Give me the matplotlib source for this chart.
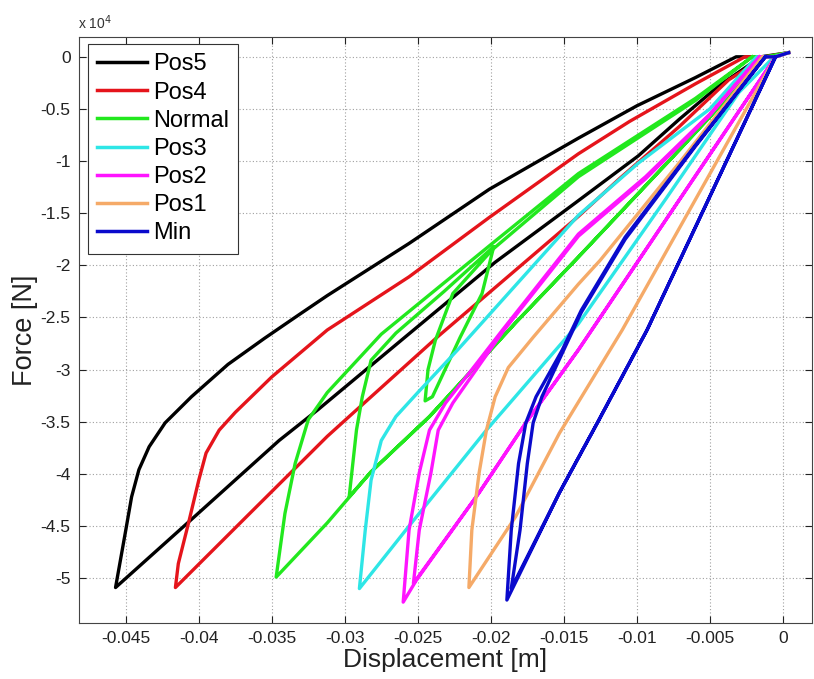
import numpy as np
import matplotlib.pyplot as plt
from matplotlib.ticker import FuncFormatter, MultipleLocator

plt.rcParams['font.family'] = ['Liberation Sans', 'DejaVu Sans']

# --- data: displacement [m], force [x 10^4 N] ---
labels = ['Pos5', 'Pos4', 'Normal', 'Pos3', 'Pos2', 'Pos1', 'Min']
colors = ['#000000', '#E5141B', '#22E81E', '#2EE6E6', '#FF14FF', '#F5AA68', '#0A0ACC']

pos5_disp = [0.0004, -0.0015, -0.0044, -0.0071, -0.0099, -0.0142, -0.0197, -0.0258, -0.0318, -0.0345, -0.0414, -0.0457,
             -0.0450, -0.0446, -0.0441, -0.0434, -0.0423, -0.0405, -0.0380, -0.0355, -0.0331, -0.0312, -0.0256,
             -0.0201, -0.0140, -0.0100, -0.0060, -0.0032, -0.0015]
pos5_force = [0.04, 0.0, -0.28, -0.60, -0.95, -1.40, -1.97, -2.68, -3.38, -3.68, -4.55, -5.09,
              -4.54, -4.22, -3.96, -3.74, -3.51, -3.26, -2.95, -2.70, -2.47, -2.29, -1.79,
              -1.27, -0.78, -0.47, -0.20, 0.0, 0.0]

pos4_disp = [0.0004, -0.0012, -0.0037, -0.0071, -0.0112, -0.0140, -0.0236, -0.0297, -0.0312, -0.0368, -0.0416,
             -0.0414, -0.0407, -0.0400, -0.0395, -0.0386, -0.0375, -0.0350, -0.0312, -0.0256, -0.0201, -0.0140,
             -0.0105, -0.0060, -0.0026, -0.0012]
pos4_force = [0.04, 0.0, -0.22, -0.67, -1.17, -1.53, -2.68, -3.45, -3.64, -4.42, -5.09,
              -4.86, -4.47, -4.06, -3.80, -3.58, -3.41, -3.07, -2.62, -2.11, -1.54, -0.93,
              -0.62, -0.26, 0.0, 0.0]

normal_disp = [0.0004, -0.0012, -0.0070, -0.0140, -0.0183, -0.0242, -0.0282, -0.0312, -0.0347,
               -0.0341, -0.0334, -0.0325, -0.0312, -0.0275, -0.0199, -0.0140, -0.0060, -0.0021,
               -0.0012, -0.0070, -0.0140, -0.0183, -0.0242, -0.0282, -0.0297,
               -0.0292, -0.0288, -0.0282, -0.0265, -0.0232, -0.0198,
               -0.0206, -0.0221, -0.0240, -0.0245,
               -0.0243, -0.0238, -0.0226, -0.0199, -0.0140, -0.0060, -0.0021]
normal_force = [0.04, 0.0, -0.88, -1.92, -2.55, -3.45, -3.98, -4.47, -4.99,
                -4.38, -3.90, -3.48, -3.22, -2.66, -1.79, -1.12, -0.40, 0.0,
                0.0, -0.88, -1.92, -2.55, -3.45, -3.98, -4.22,
                -3.58, -3.26, -2.91, -2.65, -2.25, -1.82,
                -2.27, -2.69, -3.26, -3.30,
                -3.00, -2.72, -2.27, -1.85, -1.15, -0.42, 0.0]

pos3_disp = [0.0004, -0.0006, -0.0030, -0.0080, -0.0140, -0.0203, -0.0256, -0.0290,
             -0.0286, -0.0282, -0.0275, -0.0265, -0.0250, -0.0222, -0.0140, -0.0099, -0.0050, -0.0018, -0.0006]
pos3_force = [0.04, 0.0, -0.34, -1.36, -2.56, -3.58, -4.50, -5.10,
              -4.54, -4.06, -3.68, -3.45, -3.22, -2.80, -1.52, -1.02, -0.50, 0.0, 0.0]

pos2_disp = [0.0004, -0.0005, -0.0140, -0.0176, -0.0208, -0.0251, -0.0260,
             -0.0256, -0.0249, -0.0242, -0.0231, -0.0213, -0.0192, -0.0140, -0.0094, -0.0050, -0.0016, -0.0005,
             -0.0140, -0.0176, -0.0208, -0.0253,
             -0.0249, -0.0241, -0.0236, -0.0226, -0.0211, -0.0192, -0.0140, -0.0094, -0.0050, -0.0016]
pos2_force = [0.04, 0.0, -2.81, -3.51, -4.18, -5.02, -5.23,
              -4.54, -3.99, -3.58, -3.32, -3.00, -2.62, -1.70, -1.15, -0.55, 0.0, 0.0,
              -2.81, -3.51, -4.18, -5.05,
              -4.54, -3.99, -3.58, -3.32, -3.02, -2.64, -1.72, -1.17, -0.56, 0.0]

pos1_disp = [0.0004, -0.0005, -0.0110, -0.0153, -0.0183, -0.0215,
             -0.0213, -0.0208, -0.0203, -0.0197, -0.0188, -0.0171, -0.0140, -0.0125, -0.0070, -0.0014, -0.0005]
pos1_force = [0.04, 0.0, -2.62, -3.61, -4.41, -5.09,
              -4.54, -3.99, -3.58, -3.26, -2.98, -2.69, -2.18, -1.95, -1.00, 0.0, 0.0]

min_disp = [0.0004, -0.0005, -0.0093, -0.0127, -0.0153, -0.0189,
            -0.0186, -0.0181, -0.0176, -0.0169, -0.0151, -0.0138, -0.0108, -0.0060, -0.0012, -0.0005,
            -0.0093, -0.0127, -0.0153, -0.0186,
            -0.0180, -0.0175, -0.0171, -0.0165, -0.0150, -0.0138, -0.0108, -0.0060, -0.0012]
min_force = [0.04, 0.0, -2.62, -3.51, -4.18, -5.21,
             -4.54, -3.90, -3.51, -3.26, -2.81, -2.43, -1.73, -0.85, 0.0, 0.0,
             -2.62, -3.51, -4.18, -5.10,
             -4.54, -3.90, -3.51, -3.26, -2.81, -2.45, -1.75, -0.86, 0.0]

series_disp = [pos5_disp, pos4_disp, normal_disp, pos3_disp, pos2_disp, pos1_disp, min_disp]
series_force = [pos5_force, pos4_force, normal_force, pos3_force, pos2_force, pos1_force, min_force]

# --- figure ---
fig = plt.figure(figsize=(8.14, 6.79), dpi=100)
ax = fig.add_axes([0.0971, 0.0825, 0.9005, 0.8630])

for d, f, lab, c in zip(series_disp, series_force, labels, colors):
    ax.plot(d, f, color=c, lw=2.4, label=lab, solid_joinstyle='round')

ax.set_xlim(-0.0482, 0.0020)
ax.set_ylim(-5.43, 0.19)
ax.xaxis.set_major_locator(MultipleLocator(0.005))
ax.yaxis.set_major_locator(MultipleLocator(0.5))
ax.xaxis.set_major_formatter(FuncFormatter(lambda v, p: '%g' % round(v, 4)))
ax.yaxis.set_major_formatter(FuncFormatter(lambda v, p: '%g' % round(v, 2)))

ax.grid(True, linestyle=(0, (1, 2)), color='#a0a0a0', linewidth=0.8)
ax.tick_params(direction='in', length=5, width=0.8, top=True, right=True,
               labelsize=12.5, colors='#222222', pad=6)
for s in ax.spines.values():
    s.set_color('#444444')
    s.set_linewidth(0.8)

ax.set_xlabel('Displacement [m]', fontsize=19, color='#222222', labelpad=1)
ax.set_ylabel('Force [N]', fontsize=19.5, color='#222222', labelpad=2)
ax.text(-0.002, 1.008, 'x 10$^4$', transform=ax.transAxes, fontsize=10,
        ha='left', va='bottom', color='#333333')

leg = ax.legend(loc='upper left', bbox_to_anchor=(0.012, 0.988), borderaxespad=0,
                fontsize=17, handlelength=2.1, handletextpad=0.25, labelspacing=0.26,
                borderpad=0.4, fancybox=False, framealpha=1, edgecolor='#333333')
leg.get_frame().set_linewidth(0.8)
for line in leg.get_lines():
    line.set_linewidth(2.5)

fig.savefig('out.png', dpi=100)
